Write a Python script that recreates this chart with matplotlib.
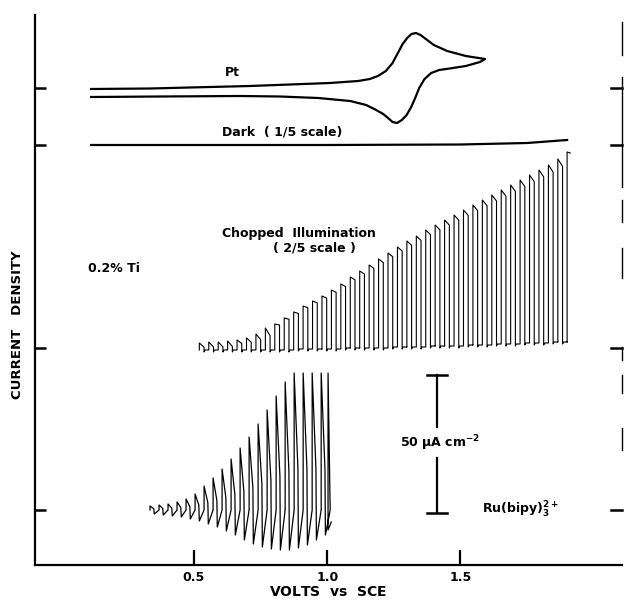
import matplotlib
matplotlib.use("Agg")
import matplotlib.pyplot as plt

# ---- data (current in arbitrary chart units, relative to each trace's zero) ----
# zero levels of the four traces (the tick marks on the y axis)
trace_zero = [55, 217, 420, 477]   # Ru(bipy), chopped, dark, Pt

# Pt cyclic voltammogram: forward sweep then return sweep
pt_v = [0.114, 0.335, 0.71, 1.01, 1.116, 1.16, 1.19, 1.22, 1.245, 1.265, 1.283,
        1.30, 1.316, 1.333, 1.35, 1.37, 1.40, 1.45, 1.52, 1.592,
        1.573, 1.52, 1.46, 1.42, 1.39, 1.365, 1.345, 1.33, 1.315, 1.298, 1.28,
        1.262, 1.245, 1.228, 1.21, 1.18, 1.146, 1.086, 0.966, 0.823, 0.673,
        0.373, 0.114]
pt_i = [-1, -0.5, 2, 5, 7, 9, 12, 17, 25, 35, 44,
        50, 54, 55, 53, 49, 43, 37, 32, 29,
        26, 22, 19.5, 18, 15, 9, 0, -10, -19, -27, -32,
        -35, -34, -30, -26, -21.5, -17, -13, -10, -8.5, -8,
        -8.5, -9]

# dark current (1/5 scale)
dark_v = [0.114, 1.0, 1.5, 1.75, 1.9]
dark_i = [0, 0, 0.5, 2, 5]

# chopped illumination (2/5 scale): one value per light pulse
chop_v0 = 0.52
chop_period = 0.0354
chop_on = [5, 6, 6, 7, 8, 10, 14, 20, 24, 30, 36, 42, 47, 52, 58, 64, 71, 77,
           83, 89, 95, 101, 107, 112, 118, 123, 128, 133, 138, 143, 148, 153,
           158, 163, 168, 173, 178, 183, 189]
chop_off = [-2, -2, -2, -2, -2, -2, -2, -2, -2, -2, -1, -1, -1, -1, -1, 0, 0, 0,
            0, 0, 1, 1, 1, 1, 2, 2, 2, 2, 3, 3, 3, 4, 4, 4, 5, 5, 5, 6, 6]
chop_end = (1.90, 196)

# Ru(bipy)3 2+ solution: transient spikes, one pair per light pulse
ru_v0 = 0.335
ru_period = 0.0338
ru_top = [4, 5, 6, 8, 11, 16, 24, 32, 41, 51, 62, 73, 86, 100, 114, 128,
          137, 137, 137, 137]
ru_bottom = [-4, -5, -6, -7, -9, -11, -14, -17, -21, -25, -30, -34, -37, -39,
             -40, -40, -38, -35, -30, -25]
ru_end = (1.003, -20)

# 50 uA cm-2 scale bar: position (V), lower end, length
scale_bar = (1.412, 52, 138)

x_ticks = [0.5, 1.0, 1.5]
x_ticklabels = ["0.5", "1.0", "1.5"]


def chopped_trace(v0, period, tops, lows):
    xs, ys = [v0], [lows[0]]
    for k, (top, low) in enumerate(zip(tops, lows)):
        t = v0 + k * period
        amp = top - low
        if amp < 10:
            sag = 0.6
        elif amp < 26:
            sag = 0.35
        else:
            sag = 0.04
        xs += [t, t, t + 0.5 * period, t + 0.5 * period, t + 0.6 * period, t + period]
        ys += [low, top, top - sag * amp, low - 2, low, low]
    return xs, ys


def spike_trace(v0, period, tops, bottoms):
    xs, ys = [v0], [0]
    for k, (top, bot) in enumerate(zip(tops, bottoms)):
        t = v0 + k * period
        xs += [t, t, t + 0.42 * period, t + 0.47 * period, t + period]
        ys += [0, top, 0.3 * top, bot, 0]
    return xs, ys


plt.rcParams['font.family'] = ['DejaVu Sans']
plt.rcParams['font.weight'] = 'bold'
plt.rcParams['mathtext.default'] = 'bf'

fig = plt.figure(figsize=(6.24, 6.03), dpi=100)
ax = fig.add_axes([35 / 624, 38 / 603, 587 / 624, 550 / 603])
ax.set_xlim(-0.0966, 2.106)
ax.set_ylim(0, 550)

k = 'black'
z_ru, z_chop, z_dark, z_pt = trace_zero

ax.plot(pt_v, [z_pt + i for i in pt_i], color=k, lw=1.6, solid_joinstyle='round')
ax.plot(dark_v, [z_dark + i for i in dark_i], color=k, lw=1.6)

cx, cy = chopped_trace(chop_v0, chop_period, chop_on, chop_off)
cx += [chop_end[0], chop_end[0], chop_end[0] + 0.012]
cy += [chop_off[-1], chop_end[1], chop_end[1] - 1]
ax.plot(cx, [z_chop + y for y in cy], color=k, lw=0.8)

rx, ry = spike_trace(ru_v0, ru_period, ru_top, ru_bottom)
rx += [ru_end[0], ru_end[0], ru_end[0] + 0.012]
ry += [ru_top[-1], ru_end[1], ru_end[1] + 8]
ax.plot(rx, [z_ru + y for y in ry], color=k, lw=0.9)

# scale bar, broken where the label sits
sb_x, sb_lo, sb_len = scale_bar
ax.plot([sb_x, sb_x], [sb_lo, sb_lo + 0.4 * sb_len], color=k, lw=1.6)
ax.plot([sb_x, sb_x], [sb_lo + 0.62 * sb_len, sb_lo + sb_len], color=k, lw=1.6)
for yy in (sb_lo, sb_lo + sb_len):
    ax.plot([sb_x - 0.037, sb_x + 0.037], [yy, yy], color=k, lw=1.8)

# labels
fs = 9
ax.text(0.643, 492, "Pt", ha='center', va='center', fontsize=fs)
ax.text(0.605, 433, "Dark  ( 1/5 scale)", ha='left', va='center', fontsize=fs)
ax.text(0.605, 332, "Chopped  Illumination", ha='left', va='center', fontsize=fs)
ax.text(0.796, 317, "( 2/5 scale )", ha='left', va='center', fontsize=fs)
ax.text(0.102, 297, "0.2% Ti", ha='left', va='center', fontsize=fs)
ax.text(1.273, 122, r"50 µA cm$^{-2}$", ha='left', va='center', fontsize=fs)
ax.text(1.58, 55, r"Ru(bipy)$_{3}^{2+}$", ha='left', va='center', fontsize=fs)

# axes styling
ax.spines['top'].set_visible(False)
ax.spines['right'].set_visible(False)
for side in ('left', 'bottom'):
    ax.spines[side].set_linewidth(1.6)

# broken right-hand frame
right_pieces = [(510, 543), (378, 488), (343, 365), (287, 317), (205, 218),
                (172, 190), (115, 137)]
trans = ax.get_yaxis_transform()
for lo, hi in right_pieces:
    ax.plot([1, 1], [lo, hi], color=k, lw=1.0, transform=trans, clip_on=False)
for z in trace_zero:
    ax.plot([0.982, 1], [z, z], color=k, lw=1.8, transform=trans, clip_on=False)

ax.set_yticks(trace_zero)
ax.set_yticklabels([])
ax.tick_params(axis='y', direction='in', length=8, width=1.8, left=True)
ax.set_xticks(x_ticks)
ax.set_xticklabels(x_ticklabels, fontsize=fs, fontweight='bold')
ax.tick_params(axis='x', direction='in', length=11, width=1.6, pad=4)

ax.set_xlabel(r"VOLTS  $\mathregular{vs}$  SCE", fontsize=10, fontweight='bold', labelpad=1)
ax.set_ylabel("CURRENT   DENSITY", fontsize=9.5, fontweight='bold')
ax.yaxis.set_label_coords(-0.018, 0.437)

fig.savefig("out.png", dpi=100)
